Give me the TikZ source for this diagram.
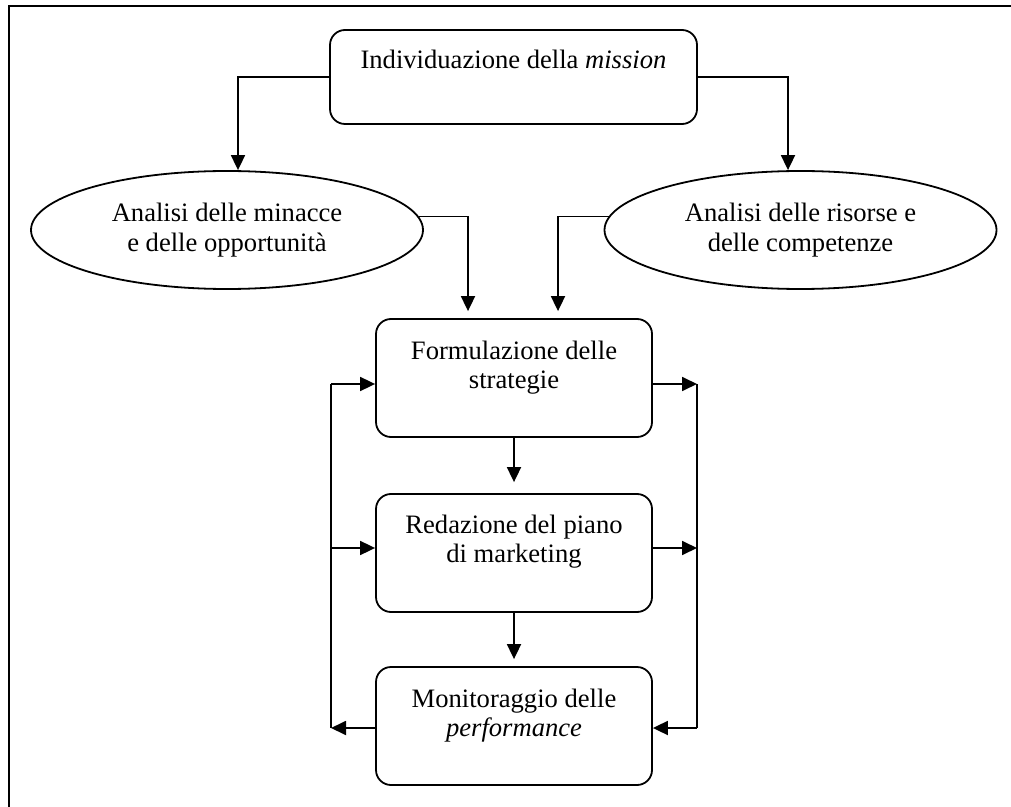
\documentclass[tikz,border=0pt]{standalone}
\usepackage{fontspec}
\setmainfont{Liberation Serif}
\usetikzlibrary{arrows.meta,shapes.geometric,calc}
% text of a rounded box, set from the top of the box
\newcommand{\toptext}[4]{\parbox[c][#1][t]{#2}{\centering\vspace*{#3}#4}}
\begin{document}
\begin{tikzpicture}[x=0.5pt,y=-0.5pt,line width=0.9pt,
  font=\fontsize{13.3pt}{14.75pt}\selectfont,
  stepbox/.style={draw,rounded corners=7.5pt,inner sep=0pt},
  oval/.style={draw,ellipse,inner sep=0pt,minimum width=196pt,minimum height=59pt,align=center},
  arr/.style={-{Triangle[length=7.5pt,width=7pt]}}]
\useasboundingbox (0,0) rectangle (1011,807);

% frame
\draw (9,807) -- (9,6) -- (1011,6);

% nodes
\node[stepbox] (mis) at (513.5,77)
  {\toptext{47pt}{183.5pt}{10pt}{Individuazione della \textit{mission}}};
\node[oval] (opp) at (227,230) {Analisi delle minacce\\e delle opportunità};
\node[oval] (ris) at (800.5,230) {Analisi delle risorse e\\delle competenze};
\node[stepbox] (str) at (514,378)
  {\toptext{59pt}{138pt}{11pt}{Formulazione delle\\strategie}};
\node[stepbox] (red) at (514,553)
  {\toptext{59pt}{138pt}{10.5pt}{Redazione del piano\\di marketing}};
\node[stepbox] (mon) at (514,726)
  {\toptext{59pt}{138pt}{11pt}{Monitoraggio delle\\\textit{performance}}};

% from the mission to the two analyses
\draw[arr] (mis.west) -| ($(opp.north)+(11,0)$);
\draw[arr] (mis.east) -| ($(ris.north)+(-12.5,0)$);

% analyses into the strategy
\draw[arr] (opp.4) -| ($(str.north)+(-46,-7)$);
\draw[arr] (ris.176) -| ($(str.north)+(44,-7)$);

% main sequence
\draw[arr] (str.south) -- ($(red.north)+(0,-11)$);
\draw[arr] (red.south) -- ($(mon.north)+(0,-7)$);

% feedback loops
\coordinate (l1) at (331,384);
\coordinate (l2) at (331,548);
\coordinate (l3) at (331,728);
\coordinate (r1) at (697,384);
\coordinate (r2) at (697,548);
\coordinate (r3) at (697,728);

\draw (l3) -- (l1);
\draw[arr] (l1) -- (l1 -| str.west);
\draw[arr] (l2) -- (l2 -| red.west);
\draw[arr] (l3 -| mon.west) -- (l3);

\draw (r1) -- (r3);
\draw[arr] (r1 -| str.east) -- (r1);
\draw[arr] (r2 -| red.east) -- (r2);
\draw[arr] (r3) -- (r3 -| mon.east);
\end{tikzpicture}
\end{document}
